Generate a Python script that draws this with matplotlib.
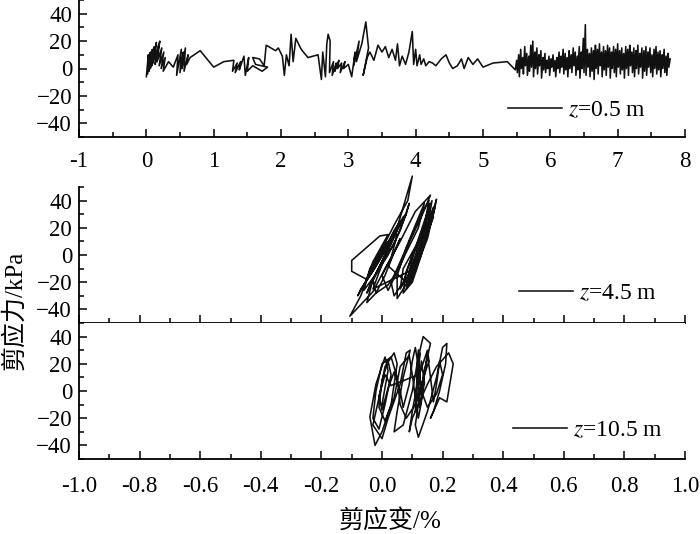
import matplotlib
matplotlib.use("Agg")
import matplotlib.pyplot as plt
from matplotlib.ticker import MultipleLocator

plt.rcParams['font.family'] = ['Liberation Serif', 'Noto Sans CJK SC']
plt.rcParams['mathtext.fontset'] = 'stix'

# ---------------- data (shear strain %, shear stress kPa) ----------------
loop_z05 = [
    (0.00, -6), (0.03, 10), (0.02, -4), (0.06, 12), (0.04, -2), (0.09, 14), (0.06, 0),
    (0.12, 16), (0.08, 2), (0.15, 19), (0.10, 4), (0.18, 17), (0.13, 3), (0.20, 20),
    (0.16, 5), (0.23, 15), (0.19, 2), (0.26, 12), (0.22, 0), (0.28, 8), (0.25, -2),
    (0.33, 5), (0.40, 1), (0.47, 10), (0.45, -5), (0.52, 14), (0.50, -3), (0.55, 12),
    (0.53, 0), (0.58, 15), (0.56, -2), (0.62, 10), (0.60, 3), (0.65, 8), (0.80, 13),
    (1.00, 1), (1.15, 5), (1.30, 6), (1.28, -2), (1.35, 4), (1.32, -3), (1.40, 5),
    (1.38, -1), (1.45, 9), (1.47, -5), (1.52, 8), (1.50, -2), (1.58, 2), (1.65, 0),
    (1.72, -2), (1.80, 1), (1.62, 3), (1.58, 8), (1.68, 7), (1.75, 2), (1.78, 17),
    (1.92, 13), (1.96, 15), (2.02, 9), (2.05, -5), (2.08, 10), (2.12, 2), (2.15, 25),
    (2.18, 5), (2.22, 22), (2.30, 14), (2.40, 8), (2.55, 10), (2.60, -8), (2.62, 12),
    (2.66, -6), (2.68, 18), (2.70, 25), (2.73, 20), (2.72, -3), (2.78, 5), (2.76, -5),
    (2.82, 4), (2.80, -2), (2.86, 6), (2.84, 0), (2.90, 4), (2.88, -3), (2.95, 5),
    (2.93, 0), (3.00, 3), (3.05, -6), (3.10, 12), (3.08, 2), (3.16, 20), (3.12, 5),
    (3.20, 18), (3.26, 34), (3.30, 15), (3.22, -5), (3.28, 8), (3.32, 12), (3.38, 6),
    (3.44, 17), (3.50, 12), (3.55, 16), (3.60, 8), (3.65, 14), (3.70, 6), (3.73, 18),
    (3.76, 2), (3.80, 9), (3.85, 3), (3.90, 12), (3.95, 27), (3.97, 3), (4.00, 14),
    (4.02, 2), (4.06, 10), (4.08, 3), (4.12, 7), (4.15, 2), (4.20, 5), (4.25, 4),
    (4.30, 2), (4.38, 7), (4.45, 10), (4.50, 4), (4.55, 0), (4.62, 2), (4.68, 7),
    (4.72, 0), (4.78, 8), (4.85, 3), (4.92, 7), (5.00, 1), (5.15, 4), (5.36, 5),
    (5.48, -1), (5.50, 6), (5.51, -3), (5.53, 10), (5.54, -6), (5.56, 14),
    (5.57, 0), (5.59, 8), (5.60, -4), (5.62, 16), (5.63, 2), (5.65, 11),
    (5.66, -5), (5.68, 9), (5.69, -2), (5.71, 17), (5.72, 1), (5.74, 20),
    (5.75, -6), (5.77, 12), (5.78, 0), (5.80, 15), (5.81, -4), (5.83, 10),
    (5.84, 2), (5.86, 13), (5.87, -7), (5.89, 8), (5.90, -1), (5.92, 11),
    (5.93, -3), (5.95, 6), (5.96, 0), (5.98, 9), (5.99, -5), (6.01, 7),
    (6.02, 1), (6.04, 10), (6.05, -2), (6.07, 6), (6.08, -6), (6.10, 8),
    (6.11, 0), (6.13, 12), (6.14, -3), (6.16, 9), (6.17, 1), (6.19, 14),
    (6.20, -4), (6.22, 11), (6.23, -1), (6.25, 8), (6.26, -6), (6.28, 13),
    (6.29, 0), (6.31, 10), (6.32, -3), (6.34, 15), (6.35, 2), (6.37, 12),
    (6.38, -5), (6.40, 9), (6.41, -1), (6.43, 16), (6.44, -7), (6.46, 12),
    (6.47, 0), (6.49, 22), (6.50, -3), (6.52, 32), (6.53, -5), (6.55, 14),
    (6.56, 1), (6.58, 11), (6.59, -6), (6.61, 15), (6.62, -2), (6.64, 13),
    (6.65, -8), (6.67, 17), (6.68, 0), (6.70, 14), (6.71, -4), (6.73, 18),
    (6.74, 2), (6.76, 12), (6.77, -6), (6.79, 16), (6.80, -1), (6.82, 13),
    (6.83, -5), (6.85, 17), (6.86, 1), (6.88, 15), (6.89, -7), (6.91, 12),
    (6.92, 0), (6.94, 16), (6.95, -3), (6.97, 14), (6.98, -6), (7.00, 18),
    (7.01, 1), (7.03, 13), (7.04, -4), (7.06, 15), (7.07, -1), (7.09, 11),
    (7.10, -7), (7.12, 16), (7.13, 0), (7.15, 14), (7.16, -5), (7.18, 17),
    (7.19, 2), (7.21, 12), (7.22, -3), (7.24, 15), (7.25, -6), (7.27, 13),
    (7.28, 0), (7.30, 17), (7.31, -4), (7.33, 11), (7.34, 1), (7.36, 15),
    (7.37, -7), (7.39, 13), (7.40, -2), (7.42, 16), (7.43, -5), (7.45, 12),
    (7.46, 1), (7.48, 15), (7.49, -3), (7.51, 10), (7.52, -6), (7.54, 14),
    (7.55, 0), (7.57, 16), (7.58, -4), (7.60, 12), (7.61, -1), (7.63, 13),
    (7.64, -6), (7.66, 10), (7.67, 0), (7.69, 14), (7.70, -3), (7.72, 9),
    (7.73, -5), (7.75, 11), (7.76, 1), (7.78, 7),
]

loop_z45 = [
    (0.00, 0), (0.04, 18), (0.06, 25), (0.01, 5), (-0.04, -15), (-0.06, -22),
    (-0.02, -8), (0.03, 12), (0.07, 28), (0.08, 30), (0.03, 10), (-0.03, -12),
    (-0.07, -25), (-0.08, -30), (-0.04, -14), (0.00, 2), (0.05, 20), (0.10, 58),
    (0.085, 40), (0.04, 22), (-0.01, 0), (-0.05, -18), (-0.10, -12), (-0.10, -4),
    (-0.007, 14), (0.02, 15), (-0.03, -5), (-0.07, -30), (-0.106, -45), (-0.03, -27),
    (0.01, -10), (0.06, 10), (0.11, 32), (0.16, 44), (0.13, 28), (0.08, 5),
    (0.05, -15), (0.05, -32), (0.09, -18), (0.13, 5), (0.18, 41), (0.17, 30),
    (0.12, 10), (0.07, -10), (0.06, -25), (0.10, -10), (0.14, 15), (0.17, 35),
    (0.15, 20), (0.10, 0), (0.07, -20), (0.04, -30), (0.03, -20), (0.07, 0),
    (0.11, 22), (0.14, 38), (0.12, 20), (0.08, 2), (0.05, -12), (0.02, -22),
    (-0.02, -28), (-0.05, -35), (-0.03, -18), (0.00, -5), (0.04, 8), (0.08, 30),
    (0.09, 38), (0.06, 18), (0.02, 0), (-0.02, -14), (-0.06, -26), (-0.04, -10),
    (0.01, 8), (0.05, 15), (0.03, -2), (0.00, -15), (0.02, -26), (0.06, -8),
    (0.09, 10), (0.13, 30), (0.155, 40), (0.14, 22), (0.11, 5), (0.08, -12),
    (0.07, -28), (0.10, -20), (0.13, 0), (0.16, 24), (0.175, 36), (0.15, 12),
    (0.12, -5), (0.09, -22), (0.11, -10), (0.14, 10), (0.17, 28),
    (0.13, 8), (0.09, -12), (-0.03, -25), (0.02, 5), (0.04, 15), (0.00, -5),
    (-0.04, -22), (-0.05, -28), (-0.01, -10), (0.03, 8), (0.05, 18), (0.01, 0),
    (-0.03, -18), (-0.02, -28), (0.01, -15), (0.04, 2), (0.06, 12), (0.02, -8),
    (0.08, -20), (0.11, 5), (0.14, 25), (0.16, 38), (0.13, 15), (0.10, -8),
    (0.08, -25), (0.11, -12), (0.14, 10), (0.17, 32), (0.15, 15), (0.12, 0),
    (0.09, -18), (0.12, -2), (0.15, 20), (0.165, 40), (0.14, 18), (0.11, -5),
]

loop_z105 = [
    (0.00, -10), (0.02, 15), (0.01, 25), (-0.02, 5), (-0.04, -19), (-0.023, -40),
    (0.00, -30), (0.03, -10), (0.05, 20), (0.04, 28), (0.01, 18), (-0.01, -5),
    (-0.03, -25), (0.00, -35), (0.02, -20), (0.06, 5), (0.08, 28), (0.093, 30),
    (0.07, 10), (0.05, -15), (0.04, -30), (0.07, -25), (0.10, 0), (0.12, 25),
    (0.136, 40), (0.16, 35), (0.14, 15), (0.12, -10), (0.11, -25), (0.12, -34),
    (0.15, -15), (0.18, 10), (0.20, 32), (0.214, 35), (0.21, 20), (0.19, 0),
    (0.17, -15), (0.16, -20), (0.19, -5), (0.214, -8), (0.235, 20), (0.22, 28),
    (0.18, 18), (0.15, 5), (0.13, -5), (0.10, -20), (0.09, -30), (0.10, -15),
    (0.12, 10), (0.15, 30), (0.155, 22), (0.13, 5), (0.11, -10), (0.08, -20),
    (0.06, -10), (0.05, 10), (0.03, 25), (0.00, 20), (-0.02, 0), (-0.03, -20),
    (-0.01, -28), (0.01, -10), (0.03, 12), (0.02, 22), (0.00, 8), (-0.01, -12),
    (0.01, -22), (0.04, -5), (0.06, 18), (0.09, 26), (0.10, 12), (0.11, -5),
    (0.12, -20), (0.13, -8), (0.14, 12), (0.15, 28), (0.16, 10), (0.17, -8),
    (0.18, 5), (0.19, 22), (0.20, 12), (0.18, -2), (0.15, -12), (0.13, 0),
    (0.12, 18), (0.11, 32), (0.10, 22), (0.09, 5), (0.07, -12), (0.06, 0),
    (0.04, 14), (0.02, 2), (0.00, -14), (-0.01, -4), (0.01, 12), (0.03, 4),
    (0.12, 12), (0.125, 28), (0.115, 8), (0.11, -15), (0.12, 0), (0.13, 22),
    (0.14, 6), (0.125, -12), (0.115, 15), (0.12, 30),
]

labels = ["$z$=0.5 m", "$z$=4.5 m", "$z$=10.5 m"]
top_xticks = [-1, 0, 1, 2, 3, 4, 5, 6, 7, 8]
bot_xticks = [-1.0, -0.8, -0.6, -0.4, -0.2, 0.0, 0.2, 0.4, 0.6, 0.8, 1.0]
yticks = [-40, -20, 0, 20, 40]

# ---------------- figure ----------------
fig = plt.figure(figsize=(7.0, 5.34), dpi=100)
L, W = 79 / 700, 606 / 700
ax1 = fig.add_axes([L, 1 - 137 / 534, W, 137 / 534])
ax2 = fig.add_axes([L, 1 - 323 / 534, W, 136 / 534])
ax3 = fig.add_axes([L, 1 - 459 / 534, W, 136 / 534])

lc = '#111111'
fs = 16.5

def style(ax):
    for s in ['top', 'right']:
        ax.spines[s].set_visible(False)
    for s in ['left', 'bottom']:
        ax.spines[s].set_linewidth(1.3)
    ax.set_ylim(-50, 50)
    ax.set_yticks(yticks)
    ax.yaxis.set_minor_locator(MultipleLocator(10))
    ax.tick_params(which='both', direction='in', width=1.1, labelsize=fs)
    ax.tick_params(which='major', length=6)
    ax.tick_params(which='minor', length=3.5)
    ax.tick_params(axis='y', pad=5)

for ax, data, lab, lpos, clip in [
    (ax1, loop_z05, labels[0], (0.708, 0.19), True),
    (ax2, loop_z45, labels[1], (0.726, 0.22), False),
    (ax3, loop_z105, labels[2], (0.716, 0.213), True),
]:
    xs = [p[0] for p in data]
    ys = [p[1] for p in data]
    ax.plot(xs, ys, color=lc, lw=1.15, label=lab, clip_on=clip)
    style(ax)
    ax.legend(loc='center left', bbox_to_anchor=lpos, frameon=False,
              fontsize=17, handlelength=2.3, handletextpad=0.25,
              borderpad=0, borderaxespad=0)

ax1.set_xlim(-1, 8)
ax1.set_xticks(top_xticks)
ax1.set_xticklabels([str(t) for t in top_xticks])
ax1.xaxis.set_minor_locator(MultipleLocator(0.5))
ax1.tick_params(axis='x', pad=10)

for ax in (ax2, ax3):
    ax.set_xlim(-1.0, 1.0)
    ax.set_xticks(bot_xticks)
    ax.xaxis.set_minor_locator(MultipleLocator(0.1))

ax2.tick_params(axis='x', labelbottom=False)
ax3.set_xticklabels([f"{t:.1f}" for t in bot_xticks])
ax3.tick_params(axis='x', pad=12)

fig.text(0.021, 1 - 310 / 534, "剪应力/kPa", rotation=90, ha='center', va='center',
         fontsize=18)
fig.text(390 / 700, 1 - 521 / 534, "剪应变/%", ha='center', va='center', fontsize=18)

fig.savefig("out.png", dpi=100)
